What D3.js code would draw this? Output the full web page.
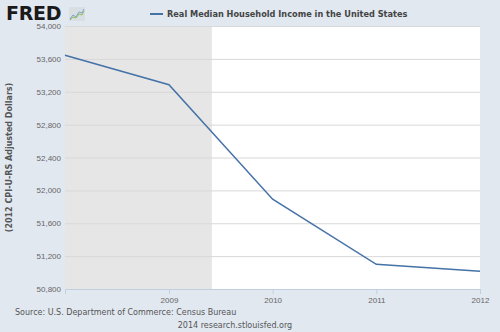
<!DOCTYPE html>
<html>
<head>
<meta charset="utf-8">
<script src="https://cdn.jsdelivr.net/npm/d3@7"></script>
<style>
  body { margin: 0; background: #e1e8f0; }
  svg { display: block; font-family: "DejaVu Sans", Verdana, sans-serif; }
</style>
</head>
<body>
<div class="chart"></div>
<script>
// Real Median Household Income in the United States (FRED)
var years = ["2008", "2009", "2010", "2011", "2012"];
var income = [53644, 53285, 51892, 51100, 51017];
var yTicks = [50800, 51200, 51600, 52000, 52400, 52800, 53200, 53600, 54000];
var xTickYears = ["2009", "2010", "2011", "2012"];
var recession = ["2007-12-01", "2009-06-01"];

var svgWidth = 500;
var svgHeight = 332;

var margin = { top: 26, right: 20, bottom: 43, left: 65 };
var width = svgWidth - margin.left - margin.right;
var height = svgHeight - margin.top - margin.bottom;

var parseYear = d3.timeParse("%Y");
var parseDay = d3.timeParse("%Y-%m-%d");

var data = years.map(function (y, i) {
  return { date: parseYear(y), value: income[i] };
});

var svg = d3.select(".chart")
  .append("svg")
  .attr("width", svgWidth)
  .attr("height", svgHeight);

svg.append("rect")
  .attr("width", svgWidth)
  .attr("height", svgHeight)
  .attr("fill", "#e1e8f0");

var chartGroup = svg.append("g")
  .attr("transform", `translate(${margin.left}, ${margin.top})`);

// scales
var xScale = d3.scaleTime()
  .domain([parseYear(years[0]), parseYear(years[years.length - 1])])
  .range([0, width]);

var yScale = d3.scaleLinear()
  .domain([yTicks[0], yTicks[yTicks.length - 1]])
  .range([height, 0]);

// plot background
chartGroup.append("rect")
  .attr("width", width)
  .attr("height", height)
  .attr("fill", "#ffffff");

// recession shading
var recStart = Math.max(0, xScale(parseDay(recession[0])));
chartGroup.append("rect")
  .attr("x", recStart)
  .attr("width", xScale(parseDay(recession[1])) - recStart)
  .attr("height", height)
  .attr("fill", "#e6e6e6");

// grid lines + y labels
var leftAxis = d3.axisLeft(yScale)
  .tickValues(yTicks)
  .tickSize(-width)
  .tickPadding(4)
  .tickFormat(d3.format(","));

var yAxisG = chartGroup.append("g").call(leftAxis);
yAxisG.select(".domain").remove();
yAxisG.selectAll(".tick line")
  .attr("stroke", "#d8d8d8")
  .attr("stroke-width", 1);
yAxisG.selectAll(".tick text")
  .attr("fill", "#666666")
  .attr("font-size", "8px");

// x axis
var bottomAxis = d3.axisBottom(xScale)
  .tickValues(xTickYears.map(parseYear))
  .tickSize(5)
  .tickPadding(3)
  .tickFormat(d3.timeFormat("%Y"));

var xAxisG = chartGroup.append("g")
  .attr("transform", `translate(0, ${height})`)
  .call(bottomAxis);
xAxisG.select(".domain")
  .attr("stroke", "#c0d0e0");
xAxisG.selectAll(".tick line")
  .attr("stroke", "#c0d0e0");
xAxisG.selectAll(".tick text")
  .attr("fill", "#666666")
  .attr("font-size", "8px");

// line
var line = d3.line()
  .x(d => xScale(d.date))
  .y(d => yScale(d.value));

chartGroup.append("path")
  .datum(data)
  .attr("d", line)
  .attr("fill", "none")
  .attr("stroke", "#4572a7")
  .attr("stroke-width", 1.5);

// y axis title
svg.append("text")
  .attr("transform", `translate(12, ${margin.top + height / 2}) rotate(-90)`)
  .attr("text-anchor", "middle")
  .attr("font-size", "8px")
  .attr("font-weight", "bold")
  .attr("fill", "#555555")
  .text("(2012 CPI-U-RS Adjusted Dollars)");

// legend / title
svg.append("line")
  .attr("x1", 150).attr("x2", 163)
  .attr("y1", 14).attr("y2", 14)
  .attr("stroke", "#4572a7")
  .attr("stroke-width", 2);

svg.append("text")
  .attr("x", 167)
  .attr("y", 17)
  .attr("font-size", "8.2px")
  .attr("font-weight", "bold")
  .attr("fill", "#444444")
  .text("Real Median Household Income in the United States");

// FRED logo
svg.append("text")
  .attr("x", 6)
  .attr("y", 20)
  .attr("font-size", "19px")
  .attr("font-weight", "bold")
  .attr("letter-spacing", "-0.3px")
  .attr("fill", "#1a1a1a")
  .text("FRED");

var icon = svg.append("g").attr("transform", "translate(69, 7)");
icon.append("rect")
  .attr("width", 16).attr("height", 14)
  .attr("fill", "#d9dee3");
icon.append("polyline")
  .attr("points", "1,12 4,8 7,10 10,5 13,6 15,2")
  .attr("fill", "none")
  .attr("stroke", "#7aa4cf")
  .attr("stroke-width", 1);
icon.append("polyline")
  .attr("points", "1,13 4,10 7,11 10,7 13,8 15,4")
  .attr("fill", "none")
  .attr("stroke", "#8fbf5a")
  .attr("stroke-width", 1);

// footer
svg.append("text")
  .attr("x", 15)
  .attr("y", 315)
  .attr("font-size", "8px")
  .attr("fill", "#555555")
  .text("Source: U.S. Department of Commerce: Census Bureau");

svg.append("text")
  .attr("x", 235)
  .attr("y", 328)
  .attr("text-anchor", "middle")
  .attr("font-size", "8px")
  .attr("fill", "#555555")
  .text("2014 research.stlouisfed.org");
</script>
</body>
</html>
